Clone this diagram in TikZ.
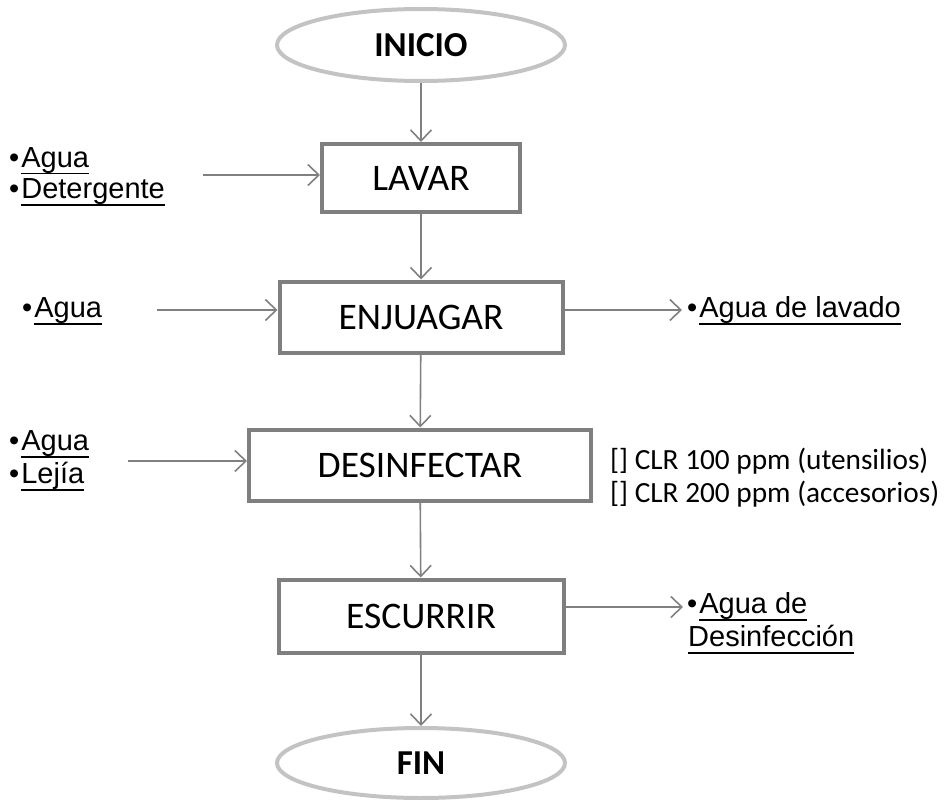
\documentclass[tikz,border=0pt]{standalone}
\usepackage{fontspec}
\setmainfont{Liberation Sans}
\newfontfamily\calfont{Carlito}
\usetikzlibrary{arrows.meta,shapes.geometric}
\definecolor{boxgray}{HTML}{7F7F7F}
\definecolor{ovalgray}{HTML}{C3C3C3}
\definecolor{arrowgray}{HTML}{808080}
% underlined word with a rule below the descenders
\newcommand\ulword[1]{\setbox0\hbox{#1}\rlap{\rule[-7.5pt]{\wd0}{1.7pt}}\box0}
\newcommand\bul{•\kern2pt}
\begin{document}
\begin{tikzpicture}[x=1pt,y=-1pt,
  stepbox/.style={draw=boxgray,line width=4pt,fill=white,rectangle,
    font=\calfont\fontsize{37.5}{40}\selectfont,inner sep=0pt},
  terminal/.style={draw=ovalgray,line width=4pt,ellipse,inner sep=0pt,
    font=\calfont\bfseries\fontsize{35}{40}\selectfont},
  flow/.style={draw=arrowgray,line width=1.6pt,
    -{Straight Barb[length=11pt,width=21pt,line width=1.6pt]}},
  item/.style={anchor=base west,inner sep=0pt,font=\fontsize{29}{32}\selectfont},
  note/.style={anchor=base west,inner sep=0pt,font=\calfont\fontsize{29.3}{33}\selectfont}]
\useasboundingbox (0,0) rectangle (946,800);

% main process chain
\node[terminal,minimum width=288pt,minimum height=72pt] (inicio) at (421,45) {INICIO};
\node[stepbox,minimum width=198pt,minimum height=68pt] (lavar) at (421,178) {LAVAR};
\node[stepbox,minimum width=283pt,minimum height=71pt] (enjuagar) at (421,317) {ENJUAGAR};
\node[stepbox,minimum width=342pt,minimum height=71pt] (desinf) at (420,465) {DESINFECTAR};
\node[stepbox,minimum width=285pt,minimum height=73pt] (escurrir) at (421,616) {ESCURRIR};
\node[terminal,minimum width=288pt,minimum height=70pt] (fin) at (421,763) {FIN};

\draw[flow] (inicio) -- (lavar);
\draw[flow] (lavar) -- (enjuagar);
\draw[flow] (enjuagar) -- (desinf);
\draw[flow] (desinf) -- (escurrir);
\draw[flow] (escurrir) -- (fin);

% inputs
\node[item] (in1a) at (9,167) {\bul\ulword{Agua}};
\node[item] (in1b) at (9,198) {\bul\ulword{Detergente}};
\coordinate (src1) at (203,175);
\draw[flow] (src1) -- (src1 -| lavar.west);

\node[item] (in2) at (22,317) {\bul\ulword{Agua}};
\coordinate (src2) at (157,310);
\draw[flow] (src2) -- (src2 -| enjuagar.west);

\node[item] (in3a) at (9,450) {\bul\ulword{Agua}};
\node[item] (in3b) at (9,483) {\bul\ulword{Lejía}};
\coordinate (src3) at (128,461);
\draw[flow] (src3) -- (src3 -| desinf.west);

% outputs
\coordinate (dst2) at (682,310);
\draw[flow] (dst2 -| enjuagar.east) -- (dst2);
\node[item] (out2) at (687,317) {\bul\ulword{Agua de lavado}};

\coordinate (dst4) at (683,607);
\draw[flow] (dst4 -| escurrir.east) -- (dst4);
\node[item] (out4a) at (687,613) {\bul\ulword{Agua de}};
\node[item] (out4b) at (688,646) {\ulword{Desinfección}};

% chlorine concentrations
\node[note] (clr1) at (610,469) {[] CLR 100 ppm (utensilios)};
\node[note] (clr2) at (610,502) {[] CLR 200 ppm (accesorios)};
\end{tikzpicture}
\end{document}
